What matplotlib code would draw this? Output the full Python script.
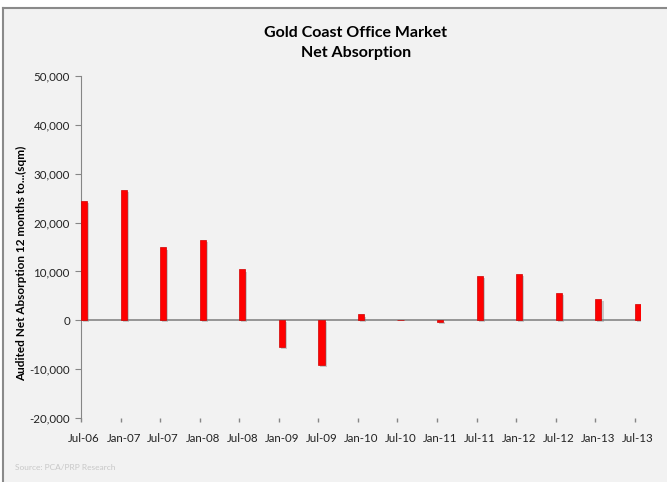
import numpy as np
import matplotlib
matplotlib.use('Agg')
import matplotlib.pyplot as plt
import matplotlib.patheffects as pe
from matplotlib.ticker import FuncFormatter

periods = ['Jul-06', 'Jan-07', 'Jul-07', 'Jan-08', 'Jul-08', 'Jan-09', 'Jul-09',
           'Jan-10', 'Jul-10', 'Jan-11', 'Jul-11', 'Jan-12', 'Jul-12', 'Jan-13', 'Jul-13']
absorption = [24400, 26600, 14900, 16400, 10400, -5500, -9200,
              1200, 0, -300, 9100, 9400, 5500, 4400, 3300]

plt.rcParams['font.family'] = ['Lato', 'DejaVu Sans']

bg = '#f2f2f2'
axis_col = '#868686'

fig = plt.figure(figsize=(6.67, 4.82), dpi=100, facecolor='white')
# panel border (top and left edges only, rest is cropped)
fig.patches.append(plt.Rectangle((3 / 667, 0), 1, (482 - 8) / 482, transform=fig.transFigure,
                                 facecolor=bg, edgecolor='none', zorder=-2))
fig.add_artist(plt.Line2D([3 / 667, 1], [474 / 482, 474 / 482], color='#8a8a8a', lw=1.5))
fig.add_artist(plt.Line2D([3 / 667, 3 / 667], [0, 474 / 482], color='#8a8a8a', lw=1.5))

ax = fig.add_axes([81 / 667, 64 / 482, 560 / 667, 342 / 482])
ax.set_facecolor('none')

x = np.arange(len(periods))
w = 0.155
bars = ax.bar(x, absorption, width=w, align='edge', color='#ff0000', edgecolor='#d00000',
              linewidth=0.5, zorder=3)
for b in bars:
    b.set_path_effects([pe.SimplePatchShadow(offset=(1.5, -1.5), shadow_rgbFace='#777777', alpha=0.35),
                        pe.Normal()])

ax.set_xlim(0, len(periods) - 1 + w)
ax.set_ylim(-20000, 50000)
ax.set_yticks(np.arange(-20000, 50001, 10000))
ax.yaxis.set_major_formatter(FuncFormatter(lambda v, p: f'{int(v):,}'))

ax.set_xticks(x + w / 2)
ax.set_xticklabels(periods)
ax.set_xticks(x, minor=True)
ax.tick_params(axis='x', which='major', length=0, pad=11, labelsize=8.3, colors='#222222')
ax.tick_params(axis='x', which='minor', length=3, color=axis_col, width=1)
ax.tick_params(axis='y', length=4, color=axis_col, labelsize=8.3, colors='#222222', pad=4)

for s in ['top', 'right', 'bottom']:
    ax.spines[s].set_visible(False)
ax.spines['left'].set_color(axis_col)
ax.axhline(0, color=axis_col, lw=1.2, zorder=2)

# two-line title, placed by baseline
fig.text(356 / 667, 1 - 37 / 482, 'Gold Coast Office Market', ha='center', va='baseline',
         fontsize=11.5, fontweight='bold')
fig.text(356 / 667, 1 - 57 / 482, 'Net Absorption', ha='center', va='baseline',
         fontsize=11.5, fontweight='bold')
fig.text(22 / 667, 1 - 263 / 482, 'Audited Net Absorption 12 months to...(sqm)', rotation=90,
         ha='center', va='center', fontsize=8.5, fontweight='bold')
fig.text(15 / 667, 1 - 467 / 482, 'Source: PCA/PRP Research', fontsize=6, color='#c8c8c8',
         ha='left', va='center')

fig.savefig('out.png', dpi=100, facecolor='white')
